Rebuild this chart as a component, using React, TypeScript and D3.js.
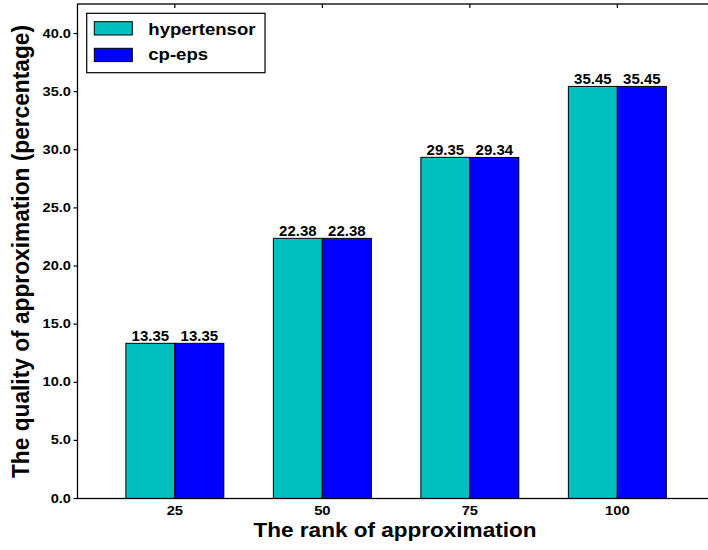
import React from 'react';
import * as d3 from 'd3';

const ranks = ['25', '50', '75', '100'];
const hypertensor = [13.35, 22.38, 29.35, 35.45];
const cpEps = [13.35, 22.38, 29.34, 35.45];
const yTicks = [0, 5, 10, 15, 20, 25, 30, 35, 40];

const seriesNames = ['hypertensor', 'cp-eps'];
const colors = ['#00bfbf', '#0000ff'];

const width = 708;
const height = 550;
const left = 77.5;
const right = 714.7;
const top = 4;
const bottom = 498.5;
const barW = 0.332;
const font = '"Liberation Sans", Arial, sans-serif';

// text squeezed/stretched horizontally to match the reference's aspect
const SText: React.FC<{ x: number; y: number; sx?: number; size: number; anchor?: string; children: React.ReactNode }> =
  ({ x, y, sx = 1, size, anchor = 'start', children }) => (
    <text transform={`translate(${x},${y}) scale(${sx},1)`} textAnchor={anchor}
      fontFamily={font} fontWeight="bold" fontSize={size}>{children}</text>
  );

const App: React.FC = () => {
  const x = d3.scaleLinear().domain([-0.66, 3.66]).range([left, right]);
  const y = d3.scaleLinear().domain([0, 42.54]).range([bottom, top]);
  const series = [hypertensor, cpEps];

  return (
    <svg width={width} height={height} style={{ position: 'absolute', left: 0, top: 0 }}>
      <rect width={width} height={height} fill="#fff" />
      {series.map((vals, s) =>
        vals.map((v, i) => {
          const x0 = x(i - barW + s * barW);
          const x1 = x(i + s * barW);
          return (
            <g key={`${s}-${i}`}>
              <rect x={x0} y={y(v)} width={x1 - x0} height={y(0) - y(v)}
                fill={colors[s]} stroke="#000" strokeWidth={1} />
              <SText x={(x0 + x1) / 2} y={y(v) - 2.5} size={15} anchor="middle">{v.toFixed(2)}</SText>
            </g>
          );
        })
      )}
      <rect x={left} y={top} width={right - left} height={bottom - top} fill="none" stroke="#000" strokeWidth={1.3} />
      {yTicks.map(t => (
        <g key={t}>
          <line x1={left - 4} x2={left} y1={y(t)} y2={y(t)} stroke="#000" strokeWidth={1.2} />
          <SText x={left - 6.5} y={y(t) + 4} sx={1.17} size={12.5} anchor="end">{t.toFixed(1)}</SText>
        </g>
      ))}
      {ranks.map((r, i) => (
        <g key={r}>
          <line x1={x(i)} x2={x(i)} y1={top} y2={top + 4} stroke="#000" strokeWidth={1.2} />
          <line x1={x(i)} x2={x(i)} y1={bottom} y2={bottom - 4} stroke="#000" strokeWidth={1.2} />
          <SText x={x(i)} y={515} sx={1.18} size={12.5} anchor="middle">{r}</SText>
        </g>
      ))}
      <text x={395} y={537} textAnchor="middle" fontFamily={font} fontWeight="bold" fontSize={21}
        textLength={283} lengthAdjust="spacingAndGlyphs">The rank of approximation</text>
      <text transform={`translate(29,251.5) rotate(-90)`} textAnchor="middle"
        fontFamily={font} fontWeight="bold" fontSize={23}
        textLength={453} lengthAdjust="spacingAndGlyphs">The quality of approximation (percentage)</text>
      <rect x={86.7} y={13.3} width={178.3} height={59.4} fill="#fff" stroke="#000" strokeWidth={1.2} />
      {seriesNames.map((n, s) => (
        <g key={n}>
          <rect x={94.3} y={21.7 + s * 26.6} width={38} height={13.3} fill={colors[s]} stroke="#000" strokeWidth={1} />
          <SText x={148.3} y={34.5 + s * 25.8} sx={1.16} size={16}>{n}</SText>
        </g>
      ))}
    </svg>
  );
};

export default App;
